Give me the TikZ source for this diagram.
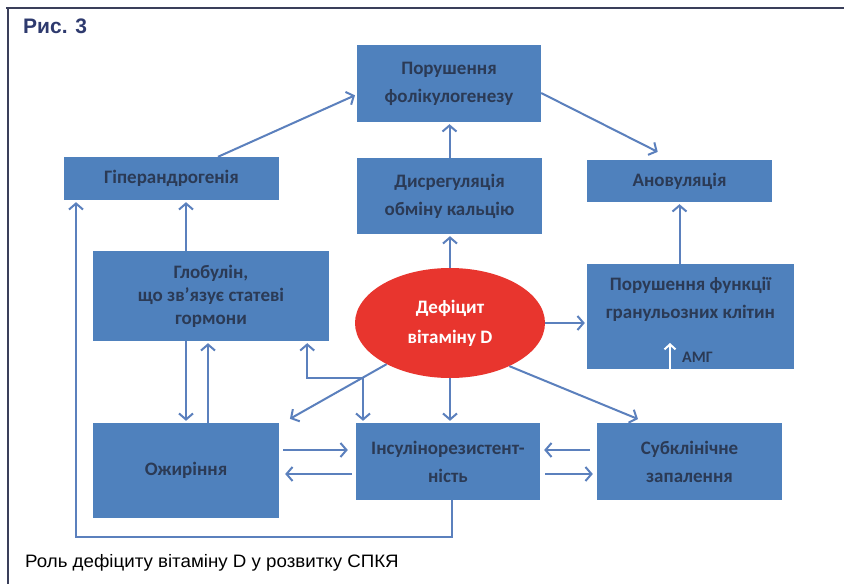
\documentclass[tikz,border=0pt]{standalone}
\usepackage{fontspec}
\setmainfont{Carlito}
\newfontfamily\capfont{Liberation Sans}
\usetikzlibrary{arrows.meta,calc,shapes.geometric}
\definecolor{boxblue}{HTML}{4F81BD}
\definecolor{boxtext}{HTML}{2B3A55}
\definecolor{linec}{HTML}{5B80BD}
\definecolor{framec}{HTML}{3A3F5A}
\definecolor{titlec}{HTML}{2E3A6E}
\definecolor{defred}{HTML}{E8352E}
\begin{document}
\begin{tikzpicture}[x=1pt,y=-1pt,
  box/.style={rectangle, fill=boxblue, inner sep=0pt, text=boxtext,
    font=\bfseries\fontsize{19}{28}\selectfont, align=center},
  arr/.style={draw=linec, line width=2pt, -{Straight Barb[length=6pt,width=14pt]}, shorten >=2pt},
  ln/.style={draw=linec, line width=2pt}]
\useasboundingbox (0,0) rectangle (844,584);
\fill[white] (0,0) rectangle (844,584);
% frame
\draw[framec, line width=2pt] (6,8) -- (844,8);
\draw[framec, line width=2pt] (8,7) -- (8,584);
% title and caption
\node[anchor=base west, text=titlec, inner sep=0pt] (fig) at (23,33) {\capfont\bfseries\fontsize{21}{24}\selectfont Рис. 3};
\node[anchor=base west, inner sep=0pt] (cap) at (25,567) {\capfont\fontsize{18}{20}\selectfont\scalebox{1.04}[1]{Роль дефіциту вітаміну D у розвитку СПКЯ}};
% boxes
\node[box, minimum width=184pt, minimum height=77pt] (fol) at (449,83.5) {Порушення\\фолікулогенезу};
\node[box, minimum width=215pt, minimum height=43pt] (hyp) at (171.5,178.5) {Гіперандрогенія};
\node[box, minimum width=185pt, minimum height=76pt] (cal) at (449.5,196) {Дисрегуляція\\обміну кальцію};
\node[box, minimum width=185pt, minimum height=42pt] (anov) at (679.5,181) {Ановуляція};
\node[box, minimum width=236pt, minimum height=90pt, font=\bfseries\fontsize{19}{23}\selectfont] (glob) at (211,296) {Глобулін,\\що зв'язує статеві\\гормони};
\node[ellipse, fill=defred, inner sep=0pt, minimum width=190pt, minimum height=110pt, text=white, align=center, font=\bfseries\fontsize{19}{30}\selectfont] (def) at (450,323) {Дефіцит\\вітаміну D};
\node[box, minimum width=207pt, minimum height=105pt] (gran) at (690.5,316.5) {};
\node[box, anchor=center] (grantxt) at (690.5,299) {Порушення функції\\гранульозних клітин};
\node[box, anchor=base west, font=\bfseries\fontsize{16}{17}\selectfont] (amg) at (682,362) {АМГ};
\coordinate (amgb) at (670,369);
\coordinate (amgt) at (670,343);
\draw[white, line width=2pt, -{Straight Barb[length=5pt,width=11pt]}] (amgb) -- (amgt);
\node[box, minimum width=186pt, minimum height=95pt] (obes) at (186,470.5) {Ожиріння};
\node[box, minimum width=184pt, minimum height=77pt] (ins) at (448,461.5) {Інсулінорезистент-\\ність};
\node[box, minimum width=185pt, minimum height=77pt] (sub) at (689.5,461.5) {Субклінічне\\запалення};
% connectors
\draw[arr] ($(hyp.north)+(46.5,0)$) -- ($(fol.west)+(0,11)$);
\draw[arr] ($(fol.east)+(0,9.5)$) -- ($(anov.north)+(-20,-7)$);
\draw[arr] (cal.north) -- (cal.north |- fol.south);
\draw[arr] (def.north) -- (def.north |- cal.south);
\draw[arr] (anov.south |- gran.north) -- (anov.south);
\draw[arr] (def.east) -- (gran.west |- def.east);
\coordinate (gx) at (186,0);
\draw[arr] (gx |- glob.north) -- (gx |- hyp.south);
\draw[arr] (obes.north |- glob.south) -- (obes.north);
\coordinate (ox) at (208,0);
\draw[arr] (ox |- obes.north) -- (ox |- glob.south);
\coordinate (lx) at (76,0);
\coordinate (ly) at (0,537);
\coordinate (insb) at (452,500);
\draw[arr] (insb) -- (insb |- ly) -| (lx |- hyp.south);
% diagonal from deficiency to obesity with branch
\coordinate (dstart) at (def.213);
\coordinate (dend) at ($(obes.north east)+(9,-3)$);
\draw[arr] (dstart) -- (dend);
\coordinate (brx) at (363,0);
\coordinate (br) at (intersection of dstart--dend and brx--{363,600});
\draw[arr] (br) -| ($(glob.south east)+(-22,0)$);
\draw[arr] (br) -- (br |- ins.north);
\draw[arr] (def.south) -- (def.south |- ins.north);
\draw[arr] (def.324) -- ($(sub.north west)+(43,-3)$);
% horizontal pairs
\coordinate (ya) at (0,450);
\coordinate (yb) at (0,474);
\draw[arr] ($(obes.east |- ya)+(4,0)$) -- ($(ins.west |- ya)+(-6,0)$);
\draw[arr] ($(ins.west |- yb)+(-4,0)$) -- ($(obes.east |- yb)+(4,0)$);
\draw[arr] ($(sub.west |- ya)+(-7,0)$) -- ($(ins.east |- ya)+(2,0)$);
\draw[arr] ($(ins.east |- yb)+(5,0)$) -- ($(sub.west |- yb)+(-2,0)$);
\end{tikzpicture}
\end{document}
